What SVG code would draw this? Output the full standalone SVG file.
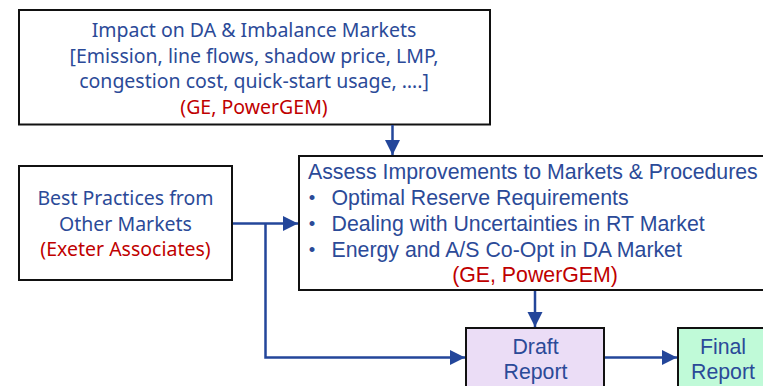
<svg xmlns="http://www.w3.org/2000/svg" width="763" height="386" viewBox="0 0 763 386">
<defs>
<marker id="ah" viewBox="0 0 10 10" refX="10" refY="5" markerWidth="6.2" markerHeight="6.2" markerUnits="strokeWidth" orient="auto">
<path d="M0,0 L10,5 L0,10 z" fill="#23469A"/>
</marker>
<style>
.box{stroke:#111;stroke-width:2;fill:#fff}
.r{font-family:"Noto Sans","Open Sans",sans-serif;font-size:19.5px;text-anchor:middle}
.a{font-family:"Liberation Sans",Arial,sans-serif;font-size:21.3px}
.b{font-family:"Liberation Sans",Arial,sans-serif;font-size:18.5px;text-anchor:middle}
.blue{fill:#2B4A98}
.red{fill:#C00000}
.con{stroke:#23469A;stroke-width:2.5;fill:none}
</style>
</defs>
<rect width="763" height="386" fill="#fff"/>
<g id="impact">
<rect class="box" x="19" y="10" width="471" height="114.5"/>
<text class="r blue" x="254" y="37">Impact on DA &amp; Imbalance Markets</text>
<text class="r blue" x="254" y="62.5">[Emission, line flows, shadow price, LMP,</text>
<text class="r blue" x="254" y="88">congestion cost, quick-start usage, ….]</text>
<text class="r red" x="254" y="113.5">(GE, PowerGEM)</text>
</g>
<g id="best">
<rect class="box" x="19" y="166" width="213" height="114"/>
<text class="r blue" x="125.5" y="205">Best Practices from</text>
<text class="r blue" x="125.5" y="230.5">Other Markets</text>
<text class="r red" x="125.5" y="256">(Exeter Associates)</text>
</g>
<g id="assess">
<rect class="box" x="299" y="156" width="480" height="134"/>
<text class="a blue" x="308" y="178.5">Assess Improvements to Markets &amp; Procedures</text>
<text class="b blue" x="312" y="204">•</text><text class="a blue" x="331.5" y="204.5">Optimal Reserve Requirements</text>
<text class="b blue" x="312" y="230">•</text><text class="a blue" x="331.5" y="230.5">Dealing with Uncertainties in RT Market</text>
<text class="b blue" x="312" y="256">•</text><text class="a blue" x="331.5" y="256.5">Energy and A/S Co-Opt in DA Market</text>
<text class="a red" x="535" y="281.5" text-anchor="middle">(GE, PowerGEM)</text>
</g>
<g id="draft">
<rect x="466" y="328" width="138" height="70" fill="#EBDDF6" stroke="#111" stroke-width="2"/>
<text class="a blue" x="535.5" y="353.5" text-anchor="middle">Draft</text>
<text class="a blue" x="535.5" y="378.5" text-anchor="middle">Report</text>
</g>
<g id="final">
<rect x="678" y="328" width="92" height="70" fill="#C0FAD8" stroke="#111" stroke-width="2"/>
<text class="a blue" x="723" y="353.5" text-anchor="middle">Final</text>
<text class="a blue" x="723" y="378.5" text-anchor="middle">Report</text>
</g>
<g id="connectors">
<path class="con" d="M392.5,125 V155" marker-end="url(#ah)"/>
<path class="con" d="M233,223.5 H298" marker-end="url(#ah)"/>
<path class="con" d="M265.5,223.5 V357.5 H465" marker-end="url(#ah)"/>
<path class="con" d="M535,291 V327" marker-end="url(#ah)"/>
<path class="con" d="M605,357.5 H677" marker-end="url(#ah)"/>
</g>
</svg>
